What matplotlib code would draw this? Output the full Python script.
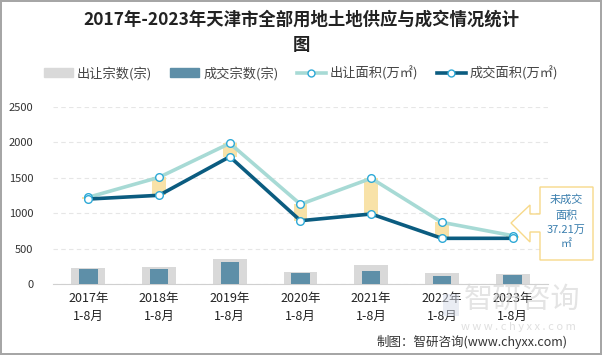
import numpy as np
import matplotlib.pyplot as plt
from matplotlib.patches import Polygon, Rectangle
from matplotlib.lines import Line2D

plt.rcParams['font.family'] = ['Noto Sans CJK SC', 'DejaVu Sans']

years = ['2017年\n1-8月', '2018年\n1-8月', '2019年\n1-8月', '2020年\n1-8月',
         '2021年\n1-8月', '2022年\n1-8月', '2023年\n1-8月']
supply_count = [226, 240, 353, 169, 268, 155, 141]
deal_count = [212, 212, 311, 155, 184, 117, 127]
supply_area = [1225, 1507, 1987, 1126, 1493, 871, 682.6]
deal_area = [1200, 1253, 1798, 894, 989, 645, 645.4]
gap_label = '未成交\n面积\n37.21万\n㎡'

W, H = 602, 355
fig = plt.figure(figsize=(W / 100, H / 100), dpi=100)
fig.patch.set_edgecolor('#a6a6a6')
fig.patch.set_linewidth(1.5)

ax = fig.add_axes([53 / W, 1 - 284 / H, 495 / W, 177 / H])
x = np.arange(len(years))

ax.bar(x, supply_count, width=0.48, color='#d9d9d9', zorder=2)
ax.bar(x, deal_count, width=0.26, color='#5e8fa8', zorder=3)

# yellow band showing the unsold area at each year
gap = np.array(supply_area) - np.array(deal_area)
ax.bar(x, gap, bottom=deal_area, width=0.19, color='#f8e2a8', zorder=4)

ax.plot(x, supply_area, color='#a7dad5', lw=2.6, zorder=5,
        marker='o', ms=5.5, mfc='white', mec='#2ea9d6', mew=1)
ax.plot(x, deal_area, color='#0b5c80', lw=2.6, zorder=6,
        marker='o', ms=5.5, mfc='white', mec='#2ea9d6', mew=1)

ax.set_xlim(-0.5, 6.5)
ax.set_ylim(0, 2500)
ax.set_yticks(range(0, 2501, 500))
ax.set_xticks(x)
ax.set_xticklabels(years, fontsize=9, color='#222222', linespacing=1.5)
ax.tick_params(axis='y', labelsize=8, colors='#333333', length=0, pad=14)
ax.tick_params(axis='x', length=0, pad=6)
for s in ['top', 'right', 'left']:
    ax.spines[s].set_visible(False)
ax.spines['bottom'].set_color('#d0d0d0')
ax.grid(axis='y', color='#e6e6e6', ls=(0, (4, 3)), lw=0.8, zorder=0)
ax.set_axisbelow(True)

fig.text(0.5, 1 - 20 / H, '2017年-2023年天津市全部用地土地供应与成交情况统计',
         ha='center', va='center', fontsize=12.5, fontweight='bold', color='#222222')
fig.text(0.5, 1 - 45 / H, '图', ha='center', va='center', fontsize=12.5,
         fontweight='bold', color='#222222')

handles = [
    Rectangle((0, 0), 1, 1, color='#d9d9d9'),
    Rectangle((0, 0), 1, 1, color='#5e8fa8'),
    Line2D([], [], color='#a7dad5', lw=2.6, marker='o', ms=5, mfc='white', mec='#2ea9d6'),
    Line2D([], [], color='#0b5c80', lw=2.6, marker='o', ms=5, mfc='white', mec='#2ea9d6'),
]
labels = ['出让宗数(宗)', '成交宗数(宗)', '出让面积(万㎡)', '成交面积(万㎡)']
fig.legend(handles, labels, loc='center', bbox_to_anchor=(0.5, 1 - 73 / H), ncol=4,
           frameon=False, fontsize=9.5, handlelength=2.2, handletextpad=0.3,
           columnspacing=1.4, labelcolor='#444444')


def px(xp, yp):
    return (xp / W, 1 - yp / H)


# callout box with left arrow
shape = [px(540, 187), px(593, 187), px(593, 260), px(540, 260), px(540, 232),
         px(530, 232), px(530, 242), px(511, 223), px(530, 205), px(530, 214),
         px(540, 214)]
fig.patches.append(Polygon(shape, closed=True, transform=fig.transFigure,
                           facecolor='white', edgecolor='#f7d98a', lw=1, zorder=10))
fig.text(566 / W, 1 - 222 / H, gap_label, ha='center', va='center', fontsize=8,
         color='#3b7fae', linespacing=1.55, zorder=11)

# watermark
fig.text(522 / W, 1 - 300 / H, '智研咨询', ha='center', va='center', fontsize=21,
         color='#d2d2d2', alpha=0.6, zorder=1)
fig.text(518 / W, 1 - 327 / H, 'w w w . c h y x x . c o m', ha='center', va='center',
         fontsize=8, color='#d2d2d2', alpha=0.7)
fig.patches.append(Rectangle(px(443, 316), 16 / W, 22 / H, transform=fig.transFigure,
                             facecolor='#d5dbe8', alpha=0.5, edgecolor='none'))

fig.text(568 / W, 1 - 342 / H, '制图：智研咨询(www.chyxx.com)', ha='right', va='center',
         fontsize=9, color='#333333')

fig.savefig('out.png', dpi=100)
